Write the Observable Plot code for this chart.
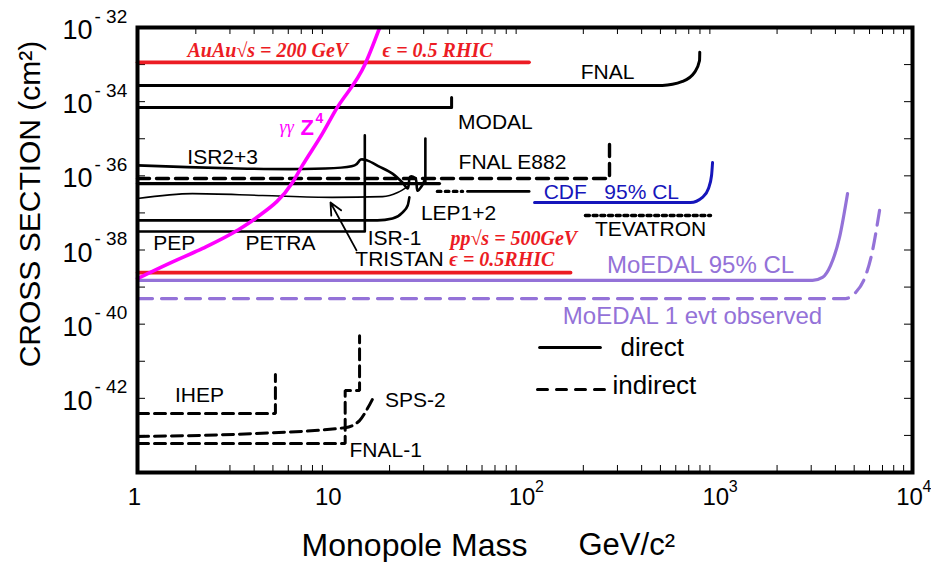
<!DOCTYPE html>
<html><head><meta charset="utf-8">
<script src="https://cdn.jsdelivr.net/npm/d3@7"></script>
<script src="https://cdn.jsdelivr.net/npm/@observablehq/plot@0.6"></script>
<style>html,body{margin:0;padding:0;background:#fff;}</style>
</head><body><div id="chart"></div>
<script>
// ---------- DATA (mass in GeV/c^2, cross section in cm^2) ----------
const xTickValues = [1, 10, 100, 1000, 10000];
const xTickBase = ["1", "10", "10", "10", "10"];
const xTickSup = ["", "", "2", "3", "4"];
const yTickValues = [1e-32, 1e-34, 1e-36, 1e-38, 1e-40, 1e-42];
const yTickSup = ["- 32", "- 34", "- 36", "- 38", "- 40", "- 42"];
const yDecades = [1e-43,1e-42,1e-41,1e-40,1e-39,1e-38,1e-37,1e-36,1e-35,1e-34,1e-33];
const xDecades = [1, 10, 100, 1000];
const xMultipliers = [2, 3, 4, 5, 6, 7, 8, 9];

const auauMass = [1, 105];            const auauSigma = [1.15e-33, 1.15e-33];
const fnalMass = [1, 512, 650, 750, 796, 798];
const fnalSigma = [2.75e-34, 2.75e-34, 3.51e-34, 6.17e-34, 1.29e-33, 2.14e-33];
const modalMass = [1, 41.8, 41.8];    const modalSigma = [6.92e-35, 6.92e-35, 1.29e-34];
const gzMass = [1, 1.46, 2.17, 3.28, 4.06, 6.31, 7.1, 9.0, 10.5, 15.0, 17.7];
const gzSigma = [1.70e-39, 4.37e-39, 1.10e-38, 3.39e-38, 7.08e-38, 6.61e-37, 1.91e-36, 1.38e-35, 5.75e-35, 1.07e-33, 9.33e-33];
const isr23Mass = [1, 13.2, 14.2, 15.4, 17.7, 20.7, 23.3, 24.8, 25.6, 27.2, 27.9, 29.2, 30.6];
const isr23Sigma = [1.91e-36, 1.91e-36, 2.75e-36, 2.57e-36, 1.78e-36, 1.15e-36, 6.61e-37, 4.57e-37, 9.55e-37, 8.51e-37, 3.98e-37, 5.13e-37, 8.51e-37];
const bandMass = [1, 36.2];           const bandSigma = [6.17e-37, 6.17e-37];
const stemMass = [30.6, 30.6];        const stemSigma = [6.17e-37, 1.02e-35];
const e882Mass = [1, 273, 273];       const e882Sigma = [8.51e-37, 8.51e-37, 7.94e-36];
const tristanMass = [1, 1.92, 4.42, 10.1, 18.4, 22.0, 24.8];
const tristanSigma = [2.45e-37, 3.31e-37, 2.95e-37, 2.63e-37, 2.75e-37, 3.55e-37, 5.13e-37];
const lepMass = [1, 17.3, 20.7, 23.3, 24.8, 25.3];
const lepSigma = [6.31e-38, 6.31e-38, 7.08e-38, 1.02e-37, 1.58e-37, 2.63e-37];
const isr1Mass = [1, 14.9, 14.9];     const isr1Sigma = [3.16e-38, 3.16e-38, 1.23e-35];
const lepDotMass = [35.3, 47.6];      const lepDotSigma = [3.80e-37, 3.80e-37];
const lepExtMass = [50.5, 105];       const lepExtSigma = [3.80e-37, 3.80e-37];
const cdfMass = [112, 715, 824, 885, 918, 929];
const cdfSigma = [1.91e-37, 1.91e-37, 2.63e-37, 4.57e-37, 1.02e-36, 2.29e-36];
const tevMass = [205, 907];           const tevSigma = [8.51e-38, 8.51e-38];
const moe95Mass = [1, 3048, 3430, 3775, 4200, 4620];
const moe95Sigma = [1.51e-39, 1.51e-39, 1.82e-39, 3.80e-39, 2.19e-38, 3.31e-37];
const moe1Mass = [1, 4510, 5080, 5650, 6140, 6760];
const moe1Sigma = [4.90e-40, 4.90e-40, 7.08e-40, 1.70e-39, 7.08e-39, 1.17e-37];
const ppMass = [1, 172];              const ppSigma = [2.45e-39, 2.45e-39];
const ihepMass = [1, 5.15, 5.15];     const ihepSigma = [3.89e-43, 3.89e-43, 4.37e-42];
const fnal1Mass = [1, 11.8, 11.8, 14.0, 14.0];
const fnal1Sigma = [6.03e-44, 6.03e-44, 1.62e-42, 1.62e-42, 4.90e-41];
const sps2Mass = [1, 3.92, 11.8, 14.0, 15.4, 16.7];
const sps2Sigma = [9.33e-44, 1.12e-43, 1.62e-43, 2.51e-43, 5.37e-43, 1.20e-42];

const blackLabelText = ["FNAL","MODAL","ISR2+3","FNAL E882","LEP1+2","ISR-1","TRISTAN","PEP","PETRA","TEVATRON","IHEP","SPS-2","FNAL-1"];
const blackLabelMass = [267, 70.4, 2.75, 86.2, 45.4, 21.2, 22.5, 1.55, 5.47, 445, 2.09, 27.2, 19.1];
const blackLabelSigma = [6.17e-34, 2.75e-35, 3.16e-36, 2.29e-36, 9.55e-38, 2.04e-38, 5.50e-39, 1.51e-38, 1.51e-38, 3.55e-38, 1.20e-42, 8.71e-43, 3.89e-44];
const purpleLabelText = ["MoEDAL 95% CL", "MoEDAL 1 evt observed"];
const purpleLabelMass = [805, 732];
const purpleLabelSigma = [3.80e-39, 1.62e-40];
const cdfLabelText = ["CDF\u00a0\u00a0 95% CL"];
const cdfLabelMass = [279];           const cdfLabelSigma = [3.55e-37];
const redLabelText = ["AuAu\u221As = 200 GeV", "\u03f5 = 0.5 RHIC", "pp\u221As = 500GeV", "\u03f5 = 0.5RHIC"];
const redLabelMass = [1.81, 18.4, 41.2, 40.7];
const redLabelSigma = [2.40e-33, 2.40e-33, 2.04e-38, 5.50e-39];
const gzLabelMass = [5.41];           const gzLabelSigma = [2.0e-35];
const arrowFrom = {mass: 13.5, sigma: 9.77e-39};
const arrowTo = {mass: 9.91, sigma: 1.91e-37};
const legendText = ["direct", "indirect"];
const legendSolidMass = [119, 245];   const legendSolidSigma = [2.34e-41, 2.34e-41];
const legendDashMass = [116, 276];    const legendDashSigma = [1.74e-42, 1.74e-42];
const legendTextMass = [311, 283];    const legendTextSigma = [2.34e-41, 2.24e-42];

// ---------- STYLE ----------
const SANS = "'Liberation Sans', Arial, Helvetica, sans-serif";
const SERIF = "'Liberation Serif', 'Times New Roman', serif";
const RED = "#ec1c24", MAGENTA = "#ff00ff", BLUE = "#1616bb", PURPLE = "#9472d8";

const pts = (mass, sigma) => mass.map((m, i) => ({mass: m, sigma: sigma[i]}));
const line = (mass, sigma, o = {}) => Plot.line(pts(mass, sigma), {x: "mass", y: "sigma", stroke: "black", strokeWidth: 3, strokeLinejoin: "round", ...o});
const labels = (text, mass, sigma) => text.map((t, i) => ({t, mass: mass[i], sigma: sigma[i]}));
const xMinor = xDecades.flatMap(d => xMultipliers.map(k => k * d));
const smooth = "monotone-x";

const chart = Plot.plot({
  width: 931, height: 562,
  marginLeft: 137, marginRight: 19, marginTop: 27, marginBottom: 90,
  style: {background: "white", overflow: "visible"},
  x: {type: "log", domain: [1, 1e4], axis: null},
  y: {type: "log", domain: [1e-44, 1e-32], axis: null},
  marks: [
    // minor ticks
    Plot.tickX(xMinor, {x: d => d, insetTop: 438, stroke: "black", strokeWidth: 1}),
    Plot.tickX(xMinor, {x: d => d, insetBottom: 438, stroke: "black", strokeWidth: 1}),
    Plot.tickY(yDecades, {y: d => d, insetRight: 767, stroke: "black", strokeWidth: 1}),
    Plot.tickY(yDecades, {y: d => d, insetLeft: 767, stroke: "black", strokeWidth: 1}),
    // series
    line(tristanMass, tristanSigma, {strokeWidth: 1.6, curve: smooth}),
    line(lepMass, lepSigma, {strokeWidth: 2.6, curve: smooth}),
    line(isr1Mass, isr1Sigma, {strokeWidth: 2.6}),
    line(isr23Mass, isr23Sigma, {strokeWidth: 2.6, curve: "catmull-rom"}),
    line(bandMass, bandSigma, {strokeWidth: 3.2}),
    line(stemMass, stemSigma, {strokeWidth: 2.6}),
    line(e882Mass, e882Sigma, {strokeWidth: 3.4, strokeDasharray: "12,7", strokeLinejoin: "miter"}),
    line(lepDotMass, lepDotSigma, {strokeWidth: 3.4, strokeDasharray: "3.5,4.5"}),
    line(lepExtMass, lepExtSigma, {strokeWidth: 2.8}),
    line(modalMass, modalSigma, {strokeWidth: 3}),
    line(fnalMass, fnalSigma, {strokeWidth: 3, curve: smooth}),
    line(tevMass, tevSigma, {strokeWidth: 3.4, strokeDasharray: "4,3.7"}),
    line(cdfMass, cdfSigma, {stroke: BLUE, strokeWidth: 3, curve: smooth}),
    line(ihepMass, ihepSigma, {strokeWidth: 3, strokeDasharray: "11,6", strokeLinejoin: "miter"}),
    line(fnal1Mass, fnal1Sigma, {strokeWidth: 3, strokeDasharray: "11,6", strokeLinejoin: "miter"}),
    line(sps2Mass, sps2Sigma, {strokeWidth: 3, strokeDasharray: "11,6", curve: smooth}),
    line(moe1Mass, moe1Sigma, {stroke: PURPLE, strokeWidth: 3.2, strokeDasharray: "15,9", curve: smooth}),
    line(moe95Mass, moe95Sigma, {stroke: PURPLE, strokeWidth: 3.2, curve: smooth}),
    line(auauMass, auauSigma, {stroke: RED, strokeWidth: 3.6}),
    line(ppMass, ppSigma, {stroke: RED, strokeWidth: 3.6}),
    line(gzMass, gzSigma, {stroke: MAGENTA, strokeWidth: 3.6, curve: smooth}),
    // arrow
    Plot.arrow([{x1: arrowFrom.mass, y1: arrowFrom.sigma, x2: arrowTo.mass, y2: arrowTo.sigma}],
      {x1: "x1", y1: "y1", x2: "x2", y2: "y2", stroke: "black", strokeWidth: 1.8, headLength: 11, headAngle: 50}),
    // legend
    line(legendSolidMass, legendSolidSigma, {strokeWidth: 3}),
    line(legendDashMass, legendDashSigma, {strokeWidth: 3, strokeDasharray: "10,9"}),
    Plot.text(labels(legendText, legendTextMass, legendTextSigma), {x: "mass", y: "sigma", text: "t", textAnchor: "start", fontSize: 26, fontFamily: SANS, fill: "black"}),
    // labels
    Plot.text(labels(blackLabelText, blackLabelMass, blackLabelSigma), {x: "mass", y: "sigma", text: "t", fontSize: 21, fontFamily: SANS, fill: "black"}),
    Plot.text(labels(purpleLabelText, purpleLabelMass, purpleLabelSigma), {x: "mass", y: "sigma", text: "t", fontSize: 24, fontFamily: SANS, fill: PURPLE}),
    Plot.text(labels(cdfLabelText, cdfLabelMass, cdfLabelSigma), {x: "mass", y: "sigma", text: "t", fontSize: 21, fontFamily: SANS, fill: BLUE}),
    Plot.text(labels(redLabelText, redLabelMass, redLabelSigma), {x: "mass", y: "sigma", text: "t", textAnchor: "start", fontSize: 20, fontFamily: SERIF, fontWeight: "bold", fontStyle: "italic", fill: RED}),
    Plot.text(labels(["\u03b3\u03b3"], gzLabelMass, gzLabelSigma), {x: "mass", y: "sigma", text: "t", textAnchor: "start", fontSize: 18, fontFamily: SERIF, fontStyle: "italic", fill: MAGENTA}),
    Plot.text(labels(["Z"], gzLabelMass, gzLabelSigma), {x: "mass", y: "sigma", text: "t", textAnchor: "start", dx: 21, fontSize: 22, fontWeight: "bold", fontFamily: SANS, fill: MAGENTA}),
    Plot.text(labels(["4"], gzLabelMass, gzLabelSigma), {x: "mass", y: "sigma", text: "t", textAnchor: "start", dx: 36, dy: -9, fontSize: 14, fontWeight: "bold", fontFamily: SANS, fill: MAGENTA}),
    // frame
    Plot.frame({stroke: "black", strokeWidth: 4}),
    // y tick labels
    Plot.text(yTickValues, {y: d => d, frameAnchor: "left", text: () => "10", textAnchor: "end", lineAnchor: "middle", dx: -45, dy: 3, fontSize: 27, fontFamily: SANS, fill: "black"}),
    Plot.text(yTickValues, {y: d => d, frameAnchor: "left", text: (d, i) => yTickSup[i], textAnchor: "start", lineAnchor: "middle", dx: -43, dy: -11, fontSize: 19, fontFamily: SANS, fill: "black"}),
    // x tick labels
    Plot.text(xTickValues, {x: d => d, frameAnchor: "bottom", text: (d, i) => xTickBase[i], textAnchor: "middle", lineAnchor: "middle", dy: 25, dx: -3, fontSize: 24, fontFamily: SANS, fill: "black"}),
    Plot.text(xTickValues, {x: d => d, frameAnchor: "bottom", text: (d, i) => xTickSup[i], textAnchor: "start", lineAnchor: "middle", dy: 14, dx: 10, fontSize: 16, fontFamily: SANS, fill: "black"}),
    // axis titles
    Plot.text(["CROSS SECTION (cm\u00b2)"], {frameAnchor: "left", text: d => d, textAnchor: "middle", lineAnchor: "middle", dx: -107, dy: -46, rotate: -90, fontSize: 30, fontFamily: SANS, fill: "black"}),
    Plot.text(["Monopole Mass"], {frameAnchor: "bottom-left", text: d => d, textAnchor: "end", lineAnchor: "middle", dx: 390, dy: 73, fontSize: 32, fontFamily: SANS, fill: "black"}),
    Plot.text(["GeV/c\u00b2"], {frameAnchor: "bottom-left", text: d => d, textAnchor: "start", lineAnchor: "middle", dx: 441, dy: 73, fontSize: 31, fontFamily: SANS, fill: "black"})
  ]
});
document.getElementById("chart").append(chart);
</script></body></html>
